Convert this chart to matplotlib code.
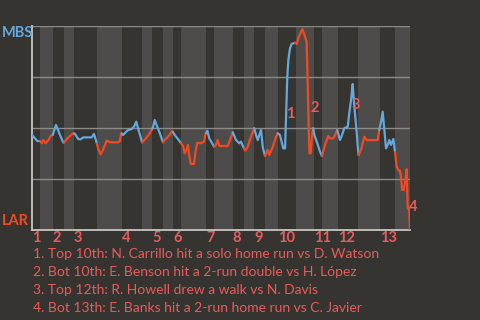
import numpy as np
import matplotlib
matplotlib.use("Agg")
import matplotlib.pyplot as plt

# Вероятность победы MBS по ходу матча (в процентах), по номеру события
plays = [0, 2, 3.5, 5.3,
         6.5, 7.5, 9.1, 10.9, 12.5, 13.8,
         16, 18.2, 20.9, 21.3,
         23.1, 25.3, 27.5, 28,
         28.7, 30.9, 32.5, 34.2, 39.8, 41.3, 42.7, 43.3,
         44.2, 45.8, 47.5, 49.8, 52, 57.5, 58.5, 59.5, 59.8,
         60.7, 62.2, 64, 66.2, 68, 69.5, 70.7, 72.5, 73.3,
         75.5, 77.8, 79.5, 80,
         80.7, 81.8, 83.5, 85.1, 87.3,
         89.5, 91.8, 93.3, 94,
         95.1, 97.3, 99.3,
         100.7, 101.8, 102.9, 104, 104.7, 105.8, 108, 109.1, 110.2, 112.5, 114.7, 115.5, 116,
         116.9, 118.2, 120.5, 121.3,
         122.7, 123.8, 124.9, 130.5, 132, 133.8,
         136, 138.2, 139.3, 141.3, 142.2,
         143.8, 146, 147.5,
         148.2, 149.3, 150.5, 151.5, 152.7, 153.8, 155.3,
         157.1, 158.2, 160.5, 162.7, 163.8,
         165.3, 167.5, 168.7, 169.3, 170.2, 170.9, 172, 173.1, 175.3,
         176.5, 177.5, 179.1, 180.2, 181.3, 183.1, 184.9, 185.8, 186.7, 187.5,
         188.2, 190.2, 192, 193.3,
         195.3, 197.5, 198.7, 200.9, 202, 203.5,
         205.3, 206.7, 208.2, 210.5, 211.5, 212.7, 213.8, 214.2, 215.3, 216.5, 217.1, 217.7,
         219.3, 221.5, 223.1, 230.5, 231.5,
         232.7, 233.8, 234.9, 236, 237.1, 238.2, 239.3, 240.9, 242,
         243.1, 244.5, 245.3, 246, 246.7, 247.8, 248.9, 249.8, 250.5, 251.5, 252]
wp = [46.6, 44.9, 43.6, 43.6,
      42.5, 44.1, 42.5, 44.1, 46.1, 46.6,
      51.5, 47.4, 42.8, 42.9,
      44.5, 46.1, 47.4, 47.3,
      47.1, 44.5, 44.5, 45.4, 45.4, 47.1, 43.8, 42.2,
      39.6, 37.1, 39.6, 43.8, 43.0, 43.0, 43.6, 47.4, 47.3,
      46.6, 47.7, 49.0, 49.4, 50.6, 53.1, 49.9, 45.4, 43.0,
      44.5, 46.6, 48.7, 49.5,
      50.6, 53.9, 50.6, 47.7, 43.0,
      44.9, 46.6, 48.5, 48.0,
      46.6, 44.6, 42.6,
      41.2, 37.6, 39.2, 41.7, 36.8, 32.4, 32.4, 38.9, 42.8, 42.5, 43.3, 46.6, 47.5,
      48.7, 44.9, 42.0, 40.9,
      41.7, 44.1, 41.2, 41.2, 44.1, 47.9,
      44.1, 42.5, 43.3, 40.0, 38.9,
      40.8, 45.7, 48.7,
      49.9, 46.6, 44.1, 46.6, 49.0, 40.8, 36.3,
      39.2, 36.8, 40.8, 45.7, 47.4,
      46.6, 40.0, 40.0, 53.9, 75.1, 83.3, 89.1, 91.2, 91.8,
      91.2, 94.0, 96.7, 98.4, 96.4, 92.3, 37.6, 37.6, 46.6, 49.9,
      46.6, 42.5, 38.4, 36.3,
      41.7, 46.1, 44.9, 44.9, 46.6, 49.0,
      44.1, 46.6, 49.9, 50.6, 57.2, 63.7, 71.6, 67.0, 57.2, 47.4, 41.7, 36.8,
      39.2, 45.7, 44.1, 44.1, 49.0,
      53.1, 58.0, 49.0, 40.0, 41.7, 44.1, 41.7, 44.6, 38.2,
      31.0, 29.1, 29.1, 26.1, 19.6, 19.6, 24.5, 29.8, 10.6, 10.6, 0]

# Начало каждой половины иннинга (верх / низ)
half_starts = [0, 5.3, 13.8, 21.3, 28, 43.3, 59.8, 73.3, 80, 87.3, 94, 99.3, 116,
               121.3, 133.8, 141.5, 148, 155.3, 163.8, 175.7, 187.8, 193.3, 203.8,
               217.5, 231.8, 241.7]
last_play = 252
innings = [str(i) for i in range(1, 14)]

events = ["1. Top 10th: N. Carrillo hit a solo home run vs D. Watson",
          "2. Bot 10th: E. Benson hit a 2-run double vs H. López",
          "3. Top 12th: R. Howell drew a walk vs N. Davis",
          "4. Bot 13th: E. Banks hit a 2-run home run vs C. Javier"]
event_labels = ["1", "2", "3", "4"]
event_x = [172.3, 188.2, 216.2, 254.3]
event_y = [56.9, 60.0, 61.3, 11.3]

BG = "#363430"
BAND = "#4e4c4a"
BLUE = "#64a8dc"
RED = "#f04a25"
PINK = "#e85c5c"

plt.rcParams["font.family"] = ["Lato", "DejaVu Sans"]

fig = plt.figure(figsize=(4.8, 3.2), dpi=100, facecolor=BG)
ax = fig.add_axes([32 / 480, 1 - 230 / 320, 378 / 480, 204 / 320])
ax.set_facecolor(BG)

ends = half_starts[1:] + [last_play]
for k, (s, e) in enumerate(zip(half_starts, ends)):
    if k % 2 == 1:
        ax.axvspan(s, e, color=BAND, lw=0, zorder=0)

for g in [25, 50, 75, 100]:
    ax.axhline(g, color="#8c8a87", lw=1, zorder=1)

# Цвет линии: верх иннинга — MBS (синий), низ — LAR (красный)
x = np.array(plays)
y = np.array(wp)
mids = (x[:-1] + x[1:]) / 2
half_idx = np.searchsorted(half_starts, mids, side="right") - 1
colors = [BLUE if h % 2 == 0 else RED for h in half_idx]
i = 0
while i < len(colors):
    j = i
    while j + 1 < len(colors) and colors[j + 1] == colors[i]:
        j += 1
    ax.plot(x[i:j + 2], y[i:j + 2], color=colors[i], lw=1.6,
            solid_joinstyle="round", solid_capstyle="round", zorder=3)
    i = j + 1

ax.set_xlim(0, last_play)
ax.set_ylim(0, 100)
ax.set_xticks([])
ax.set_yticks([])
for side in ["top", "right"]:
    ax.spines[side].set_visible(False)
for side in ["left", "bottom"]:
    ax.spines[side].set_color("#c8c6c3")
    ax.spines[side].set_linewidth(1.3)

for n, k in zip(innings, range(0, len(half_starts), 2)):
    ax.text(half_starts[k], -0.04, n, transform=ax.get_xaxis_transform(),
            ha="left", va="center", color=PINK, fontsize=10.5, fontweight="bold")

for lab, ex, ey in zip(event_labels, event_x, event_y):
    ax.text(ex, ey, lab, ha="center", va="center", color=PINK,
            fontsize=10.5, fontweight="bold", clip_on=False, zorder=4)

fig.text(2 / 480, 1 - 33 / 320, "MBS", color=BLUE, fontsize=10.5,
         fontweight="bold", ha="left", va="center")
fig.text(2 / 480, 1 - 221 / 320, "LAR", color=RED, fontsize=10.5,
         fontweight="bold", ha="left", va="center")

for n, line in enumerate(events):
    fig.text(33 / 480, 1 - (254.5 + n * 17.8) / 320, line, color=PINK,
             fontsize=10, ha="left", va="center")

fig.savefig("out.png", dpi=100, facecolor=BG)
